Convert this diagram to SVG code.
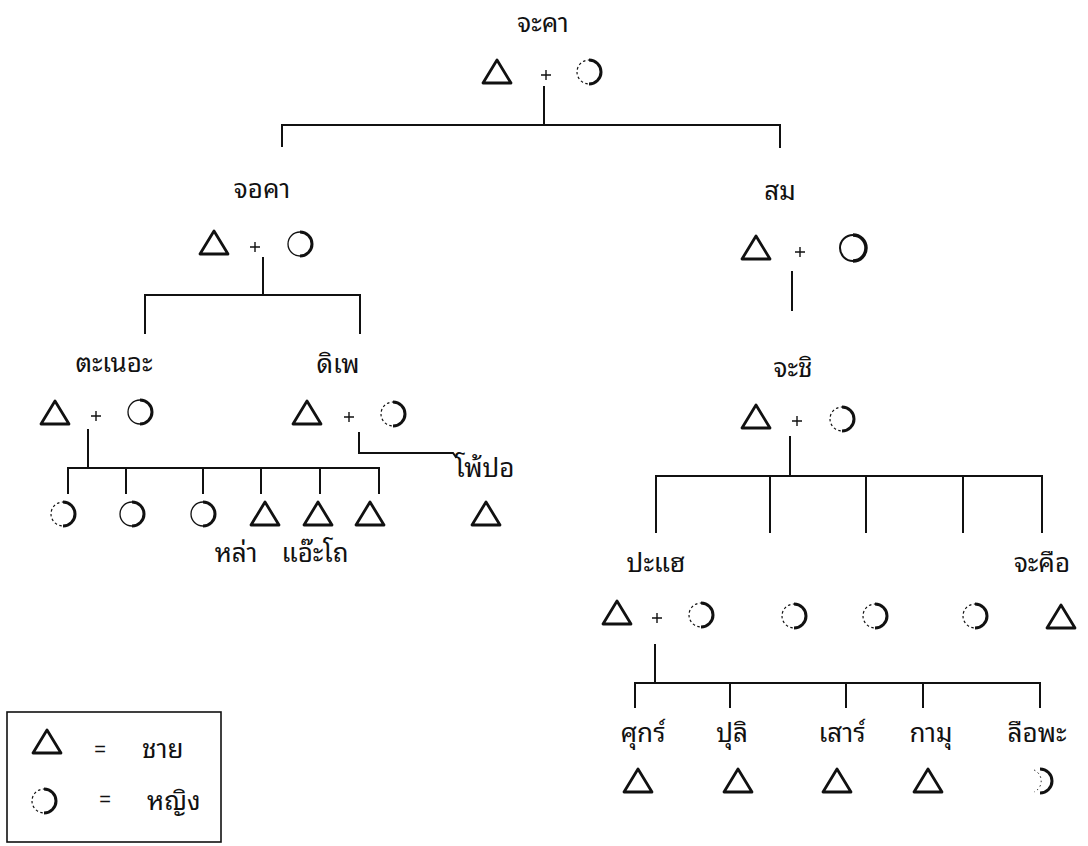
<svg xmlns="http://www.w3.org/2000/svg" xmlns:xlink="http://www.w3.org/1999/xlink" width="1088" height="846" viewBox="0 0 1088 846">
<style>
.t{font-family:"Noto Sans Thai Looped","Noto Serif Thai","Noto Sans Thai","Loma","Garuda","Norasi","DejaVu Sans",sans-serif;font-size:26px;fill:#111;text-anchor:middle}
.ts{text-anchor:start}
.eq{font-family:"Liberation Sans",sans-serif;font-size:20px;fill:#111;text-anchor:middle}
.ln{stroke:#111;stroke-width:2;fill:none;stroke-linecap:square}
.sym{stroke:#111;fill:none}
</style>
<defs>
<path id="tri" class="sym" d="M-14,11 L0,-12 L14,11 Z" stroke-width="2.8" stroke-linejoin="round"/>
<path id="plus" class="sym" d="M-5,0 H5 M0,-5 V5" stroke-width="1.4"/>
<g id="cir" class="sym"><circle r="12" stroke-width="1.3"/><path d="M0,-12 A12,12 0 0 1 0,12" stroke-width="3"/></g>
<g id="cird" class="sym"><circle r="12" stroke-width="1.2" stroke-dasharray="2.5 2.5"/><path d="M0,-12 A12,12 0 0 1 0,12" stroke-width="3"/></g>
<g id="cirb" class="sym"><circle r="13" stroke-width="2"/><path d="M0,-13 A13,13 0 0 1 0,13" stroke-width="3.5"/></g>
<g id="arc" class="sym"><path d="M-6,-11 A12,12 0 0 1 -6,11" stroke-width="1" stroke-dasharray="1.5 3"/><path d="M0,-12 A12,12 0 0 1 0,12" stroke-width="3"/></g>
</defs>

<g id="connectors" class="ln">
<path d="M544,87 V125 M282,125 H780 M282,125 V146 M780,125 V147"/>
<path d="M263,258 V295 M145,295 H360 M145,295 V333 M360,295 V333"/>
<path d="M792,272 V310"/>
<path d="M790,437 V476 M656,476 H1042 M656,476 V532 M770,476 V532 M866,476 V532 M963,476 V532 M1042,476 V532"/>
<path d="M88,430 V468 M68,468 H379 M68,468 V493 M126,468 V493 M203,468 V493 M261,468 V493 M320,468 V493 M379,468 V493"/>
<path d="M359,433 V453 H453 L456,457"/>
<path d="M655,645 V683 M635,683 H1040 M635,683 V707 M730,683 V707 M846,683 V707 M923,683 V707 M1040,683 V707"/>
</g>

<g id="n-jakha"><text class="t" x="543" y="32">จะคา</text><use href="#tri" x="497" y="72"/><use href="#plus" x="546" y="75"/><use href="#cird" x="589" y="72"/></g>
<g id="n-jokha"><text class="t" x="262" y="198">จอคา</text><use href="#tri" x="214" y="243"/><use href="#plus" x="255" y="247"/><use href="#cir" x="300" y="244"/></g>
<g id="n-som"><text class="t" x="780" y="200">สม</text><use href="#tri" x="756" y="248"/><use href="#plus" x="800" y="252"/><use href="#cirb" x="853" y="248"/></g>
<g id="n-jachi"><text class="t" x="793" y="377">จะชิ</text><use href="#tri" x="756" y="417"/><use href="#plus" x="797" y="421"/><use href="#cird" x="842" y="419"/></g>
<g id="n-tanoe"><text class="t" x="114" y="372">ตะเนอะ</text><use href="#tri" x="55" y="413"/><use href="#plus" x="96" y="416"/><use href="#cir" x="140" y="412"/></g>
<g id="n-dipe"><text class="t" x="338" y="373">ดิเพ</text><use href="#tri" x="307" y="413"/><use href="#plus" x="349" y="417"/><use href="#cird" x="393" y="414"/></g>
<g id="n-tanoe-children">
<use href="#cird" x="63" y="514"/><use href="#cir" x="132" y="514"/><use href="#cir" x="203" y="514"/>
<use href="#tri" x="265" y="514"/><use href="#tri" x="318" y="514"/><use href="#tri" x="370" y="514"/>
<text class="t" x="236" y="562">หล่า</text><text class="t" x="315" y="562">แอ๊ะโถ</text>
</g>
<g id="n-phopo"><text class="t ts" x="455" y="477">โพ้ปอ</text><use href="#tri" x="486" y="514"/></g>
<g id="n-pahae"><text class="t" x="656" y="572">ปะแฮ</text><use href="#tri" x="617" y="613"/><use href="#plus" x="657" y="618"/><use href="#cird" x="701" y="615"/></g>
<g id="n-jachi-children"><use href="#cird" x="794" y="616"/><use href="#cird" x="875" y="616"/><use href="#cird" x="975" y="616"/></g>
<g id="n-jakhue"><text class="t" x="1042" y="572">จะคือ</text><use href="#tri" x="1061" y="617"/></g>
<g id="n-pahae-children">
<text class="t" x="643" y="742">ศุกร์</text><use href="#tri" x="638" y="781"/>
<text class="t" x="732" y="742">ปุลิ</text><use href="#tri" x="738" y="781"/>
<text class="t" x="842" y="742">เสาร์</text><use href="#tri" x="837" y="781"/>
<text class="t" x="931" y="742">กามุ</text><use href="#tri" x="928" y="781"/>
<text class="t" x="1037" y="742">ลือพะ</text><use href="#arc" x="1040" y="781"/>
</g>
<g id="legend">
<rect x="7" y="712" width="214" height="130" fill="none" stroke="#111" stroke-width="1.6"/>
<use href="#tri" x="47" y="742"/><text class="eq" x="100" y="756">=</text><text class="t ts" x="142" y="758">ชาย</text>
<use href="#cird" x="44" y="801"/><text class="eq" x="105" y="806">=</text><text class="t ts" x="147" y="810">หญิง</text>
</g>
</svg>
